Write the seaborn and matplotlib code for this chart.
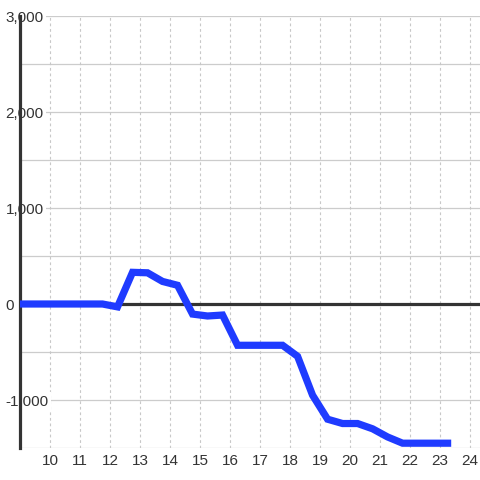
import numpy as np
import pandas as pd
import matplotlib
matplotlib.use("Agg")
import matplotlib.pyplot as plt
import seaborn as sns

# values, one point every half unit
x_vals = [8.75, 9.25, 9.75, 10.25, 10.75, 11.25, 11.75, 12.25, 12.75, 13.25,
          13.75, 14.25, 14.75, 15.25, 15.75, 16.25, 16.75, 17.25, 17.75, 18.25,
          18.75, 19.25, 19.75, 20.25, 20.75, 21.25, 21.75, 22.25, 22.75, 23.25]
y_vals = [0, 0, 0, 0, 0, 0, 0, -30, 330, 325,
          235, 195, -105, -125, -115, -430, -430, -430, -430, -545,
          -950, -1200, -1245, -1245, -1300, -1385, -1450, -1450, -1450, -1450]
x_ticks = list(range(10, 25))
y_ticks = [-1000, 0, 1000, 2000, 3000]
y_grid = [-1500, -1000, -500, 0, 500, 1000, 1500, 2000, 2500, 3000]

df = pd.DataFrame({"x": x_vals, "y": y_vals})

sns.set_style("white")
plt.rcParams["font.family"] = ["Liberation Sans", "DejaVu Sans"]

fig = plt.figure(figsize=(4.8, 4.8), dpi=100)
ax = fig.add_axes([20 / 480, 32 / 480, 460 / 480, 432 / 480])

# grid
for g in y_grid:
    ax.axhline(g, color="#cccccc", lw=0.9, zorder=0.5)
for t in x_ticks:
    ax.axvline(t, color="#c8c8c8", lw=0.8, ls=(0, (2.5, 2.5)), zorder=0.5)
ax.axhline(0, color="#333333", lw=2.3, zorder=1.5)

sns.lineplot(data=df, x="x", y="y", color="#1f3bff", lw=5.2, ax=ax, zorder=3,
             solid_joinstyle="miter", solid_capstyle="projecting")

ax.set_xlim(9, 24.33)
ax.set_ylim(-1500, 3000)
ax.set_xticks(x_ticks)
ax.set_yticks(y_ticks)
ax.set_yticklabels([f"{v:,}" for v in y_ticks])
ax.set_xlabel("")
ax.set_ylabel("")

for s in ["top", "right", "bottom"]:
    ax.spines[s].set_visible(False)
ax.spines["left"].set_color("#333333")
ax.spines["left"].set_linewidth(2.3)
ax.spines["left"].set_zorder(1)

ax.tick_params(axis="x", length=0, pad=4.5, labelsize=11, labelcolor="#333333")
ax.tick_params(axis="y", length=0, pad=10.5, labelsize=11, labelcolor="#333333")
for lab in ax.get_yticklabels():
    lab.set_horizontalalignment("left")
    lab.set_bbox(dict(facecolor="white", edgecolor="none", pad=1.5))
    lab.set_zorder(5)

fig.savefig("out.png", dpi=100)
